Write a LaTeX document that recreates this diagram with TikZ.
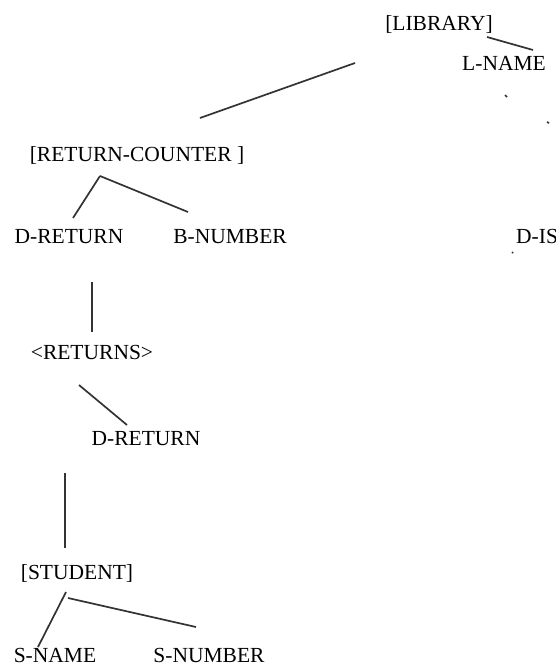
\documentclass[tikz,border=0pt]{standalone}
\usepackage{fontspec}
\setmainfont{Liberation Serif}
\usetikzlibrary{calc}

\begin{document}
\begin{tikzpicture}[x=1pt,y=-1pt,
    ent/.style={inner sep=0pt,anchor=base,font=\fontsize{21.5}{24}\selectfont},
    link/.style={draw=black!80,line width=1.7pt}]
    \clip (0,0) rectangle (555,671);
    \fill [white] (0,0) rectangle (555,671);
    % entity names, placed by their baselines
    \node [ent] (lib) at (439,31) {[LIBRARY]};
    \node [ent] (lname) at (504,71) {L-NAME};
    \node [ent] (rc) at (137,162) {[RETURN-COUNTER ]};
    \node [ent] (dret) at (69,243) {D-RETURN};
    \node [ent] (bnum) at (230,243) {B-NUMBER};
    \node [ent,anchor=base west] (dis) at (516,243) {D-IS};
    \node [ent] (rets) at (92,359) {<RETURNS>};
    \node [ent] (dretb) at (146,445) {D-RETURN};
    \node [ent] (stud) at (77,579) {[STUDENT]};
    \node [ent] (sname) at (55,662) {S-NAME};
    \node [ent] (snum) at (209,662) {S-NUMBER};
    % links
    \draw [link] ($(lib.base)+(48,6)$) -- ($(lname.base)+(29,-21)$);
    \draw [link] ($(lib.base)+(-84,32)$) -- ($(rc.base)+(63,-44)$);
    \draw [link] ($(lname.base)+(1,24)$) -- ($(lname.base)+(3,26)$);
    \draw [link] ($(lname.base)+(43,51)$) -- ($(lname.base)+(45,52)$);
    \draw [link] ($(dis.base west)+(-4,9)$) -- ($(dis.base west)+(-3,10)$);
    \draw [link] ($(rc.base)+(-37,14)$) -- ($(dret.base)+(4,-25)$);
    \draw [link] ($(rc.base)+(-37,14)$) -- ($(bnum.base)+(-42,-31)$);
    \draw [link] ($(dret.base)+(23,39)$) -- ($(rets.base)+(0,-27)$);
    \draw [link] ($(rets.base)+(-13,26)$) -- ($(dretb.base)+(-19,-20)$);
    \draw [link] ($(dretb.base)+(-81,28)$) -- ($(stud.base)+(-12,-31)$);
    \draw [link] ($(stud.base)+(-11,13)$) -- ($(sname.base)+(-17,-15)$);
    \draw [link] ($(stud.base)+(-9,19)$) -- ($(snum.base)+(-13,-35)$);
\end{tikzpicture}
\end{document}
